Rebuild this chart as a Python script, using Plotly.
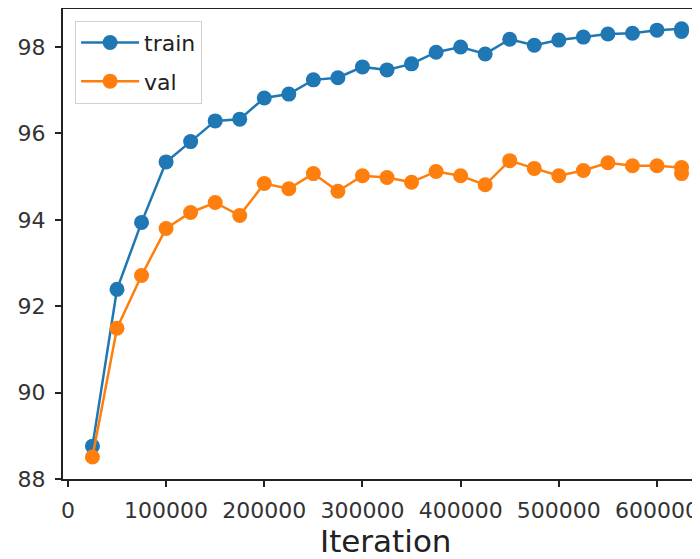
import plotly.graph_objects as go

iterations = [25000, 50000, 75000, 100000, 125000, 150000, 175000, 200000, 225000,
              250000, 275000, 300000, 325000, 350000, 375000, 400000, 425000, 450000,
              475000, 500000, 525000, 550000, 575000, 600000, 625000, 625000]
train_acc = [88.76, 92.39, 93.94, 95.34, 95.81, 96.29, 96.33, 96.82, 96.91,
             97.24, 97.29, 97.54, 97.47, 97.61, 97.88, 98.00, 97.84, 98.18,
             98.04, 98.16, 98.23, 98.30, 98.32, 98.39, 98.42, 98.36]
val_acc = [88.51, 91.49, 92.71, 93.80, 94.17, 94.40, 94.10, 94.84, 94.72,
           95.07, 94.66, 95.02, 94.98, 94.87, 95.12, 95.02, 94.81, 95.37,
           95.19, 95.02, 95.14, 95.32, 95.25, 95.25, 95.21, 95.07]
x_ticks = [0, 100000, 200000, 300000, 400000, 500000, 600000]
y_ticks = [88, 90, 92, 94, 96, 98]

FONT = "DejaVu Sans"

fig = go.Figure()
fig.add_trace(go.Scatter(x=iterations, y=train_acc, mode="lines+markers", name="train",
                         legendgroup="a",
                         line=dict(color="#1f77b4", width=2.5),
                         marker=dict(color="#1f77b4", size=15)))
fig.add_trace(go.Scatter(x=iterations, y=val_acc, mode="lines+markers", name="val",
                         legendgroup="b",
                         line=dict(color="#ff7f0e", width=2.5),
                         marker=dict(color="#ff7f0e", size=15)))

axis_common = dict(showgrid=False, zeroline=False, showline=True, linecolor="#222",
                   linewidth=2, ticks="outside", ticklen=6, tickwidth=1.5, tickcolor="#222",
                   automargin=False,
                   tickfont=dict(family=FONT, size=22, color="#333"))

fig.update_layout(
    width=692, height=551,
    margin=dict(l=55, r=0, t=1, b=80),
    paper_bgcolor="white", plot_bgcolor="white",
    font=dict(family=FONT, color="#222"),
    showlegend=True,
    legend=dict(x=0.019, y=0.975, xanchor="left", yanchor="top",
                bgcolor="rgba(255,255,255,0.9)", bordercolor="#d0d0d0", borderwidth=1,
                font=dict(family=FONT, size=22, color="#222"),
                traceorder="grouped", tracegroupgap=7,
                itemwidth=58),
    xaxis=dict(range=[-5000, 643800], tickvals=x_ticks,
               ticktext=[str(v) for v in x_ticks], mirror=True,
               ticklabelstandoff=5,
               **axis_common),
    yaxis=dict(range=[88.0, 98.88], tickvals=y_ticks,
               ticktext=[str(v) for v in y_ticks], mirror=False, ticklabelstandoff=5,
               **axis_common),
    annotations=[dict(text="Iteration", xref="paper", yref="paper", x=0.507, y=0,
                      xanchor="center", yanchor="middle", yshift=-62, showarrow=False,
                      font=dict(family=FONT, size=31, color="#222"))],
)

fig.write_html("out.html")
